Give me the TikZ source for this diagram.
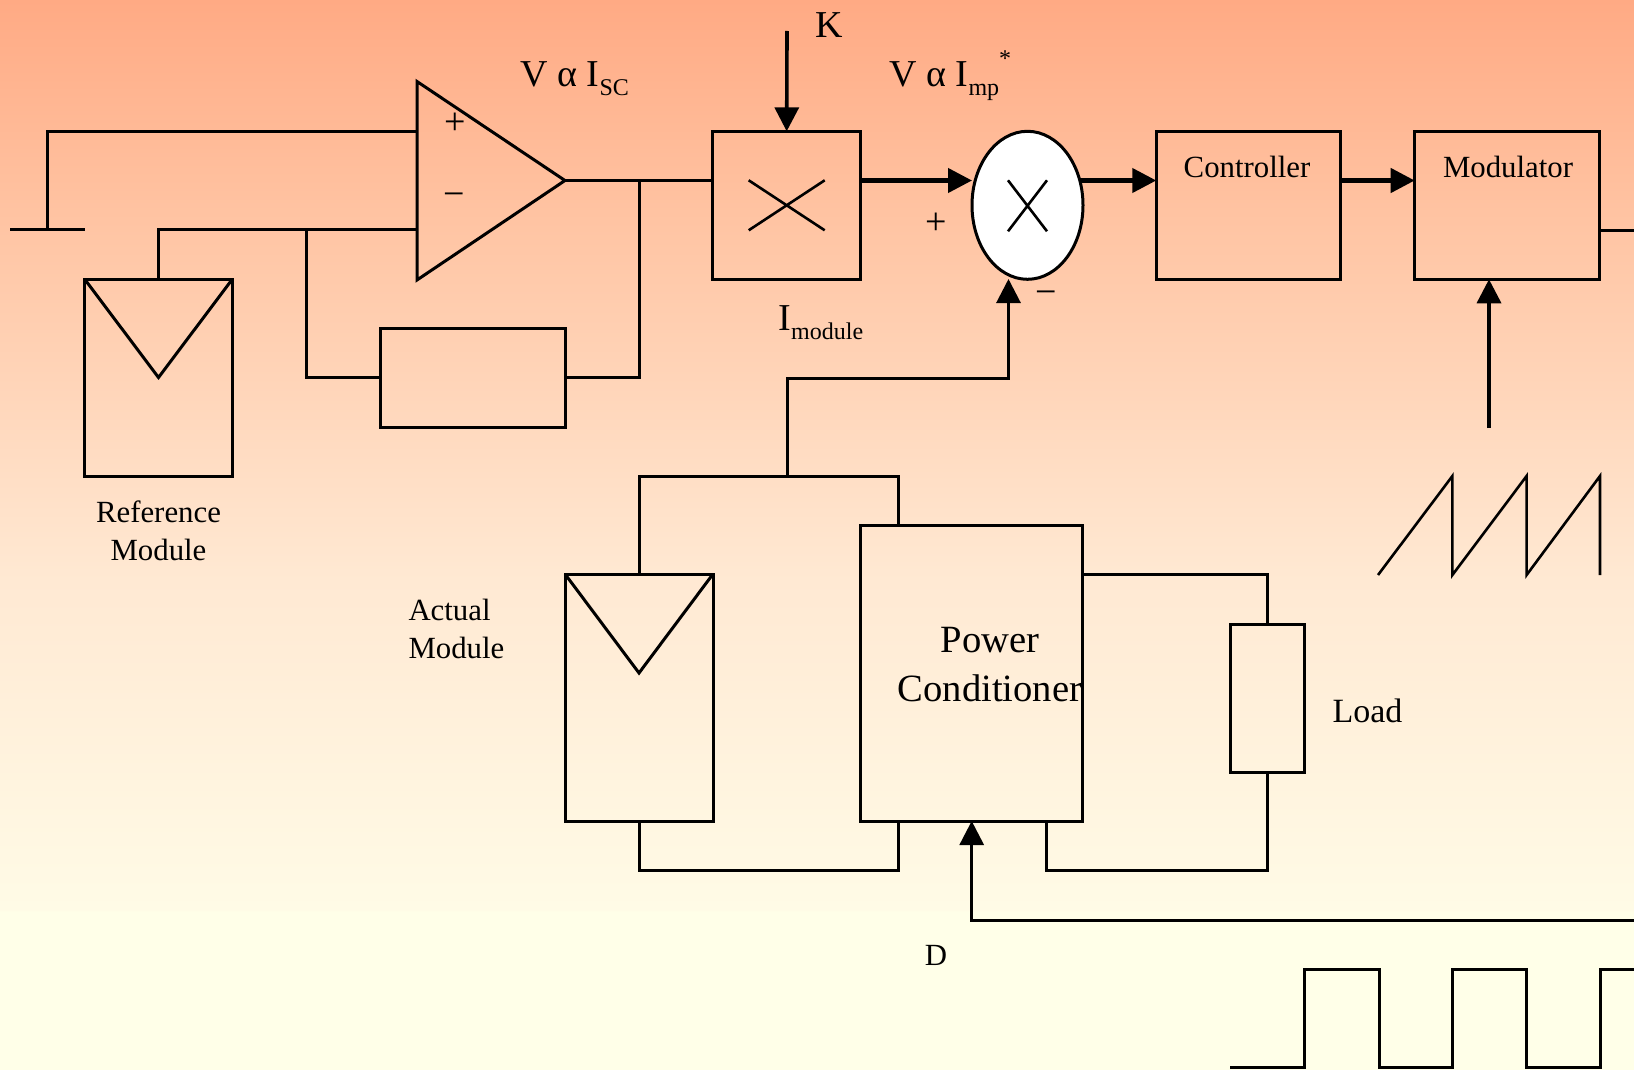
\documentclass[tikz,border=0pt]{standalone}
\usepackage{fontspec}
\setmainfont{Liberation Serif}
\usepackage{xcolor}
\usetikzlibrary{arrows.meta,positioning,shapes.geometric}
\definecolor{bgtop}{HTML}{FFAA84}
\definecolor{bgupper}{HTML}{FFC4A3}
\definecolor{bglower}{HTML}{FFE9D3}
\definecolor{bgfoot}{HTML}{FFFBE6}
\definecolor{bgbot}{HTML}{FFFFE8}
\pgfdeclareverticalshading{bgfade}{100bp}{color(0bp)=(bgbot); color(32.4bp)=(bgbot); color(32.5bp)=(bgfoot); color(47.9bp)=(bglower); color(64.7bp)=(bgupper); color(75bp)=(bgtop); color(100bp)=(bgtop)}
\newcommand{\lowtxt}[1]{\raisebox{-4.5pt}{\fontsize{12}{14}\selectfont #1}}
\newcommand{\hightxt}[1]{\raisebox{10pt}{\fontsize{12}{14}\selectfont #1}}

\begin{document}
\begin{tikzpicture}[x=.5pt,y=-.5pt,>={Triangle[length=12pt,width=12pt]},line width=1.5pt]
\tikzstyle{box}=[rectangle,draw,inner sep=0pt,outer sep=0pt]
\tikzstyle{txt}=[inner sep=0pt,font=\fontsize{15.4}{19}\selectfont]
\tikzstyle{bigtxt}=[inner sep=0pt,font=\fontsize{19}{24}\selectfont]
\tikzstyle{bold}=[line width=2.2pt]
\tikzstyle{heavy}=[line width=1.8pt]
\tikzstyle{fine}=[line width=1.3pt]
\useasboundingbox (0,0) rectangle (1634,1070);
\shade[shading=bgfade] (0,0) rectangle (1634,1070);
% blocks
\node[box,minimum width=74pt,minimum height=74pt] (mult) at (786.7,205.3) {};
\node[box,ellipse,fill=white,minimum width=55.5pt,minimum height=74pt] (sum) at (1027.5,205.3) {};
\node[box,minimum width=92.25pt,minimum height=74pt] (ctrl) at (1248.5,205.3) {};
\node[box,minimum width=92.5pt,minimum height=74pt] (mod) at (1507.2,205.3) {};
\node[box,minimum width=74pt,minimum height=98.5pt] (refmod) at (158.5,377.5) {};
\node[box,minimum width=92.5pt,minimum height=49.5pt] (fb) at (472.5,377.5) {};
\node[box,minimum width=74pt,minimum height=123.5pt] (actmod) at (639,697.5) {};
\node[box,minimum width=111pt,minimum height=148pt] (pc) at (971.7,673) {};
\node[box,minimum width=37pt,minimum height=74pt] (load) at (1267.5,698) {};
% ports
\coordinate (ampa) at (417,81.5);
\coordinate (ampb) at (417,280);
\coordinate (ampo) at (565,180.5);
\coordinate (ampp) at (417,131.5);
\coordinate (ampm) at (417,229.6);
\coordinate (gnd) at (47.6,229.6);
\coordinate (gndl) at (10,229.6);
\coordinate (gndr) at (85,229.6);
\coordinate (jm) at (306,229.6);
\coordinate (jo) at (639,180.5);
\coordinate (kin) at (787,31);
\coordinate (sumin) at (972,180.5);
\coordinate (sumo) at (1080,180.5);
\coordinate (sumb) at (1008.5,378);
\coordinate (sumt) at (1008.5,279);
\coordinate (imod) at (787,476);
\coordinate (pct) at (898,525);
\coordinate (pcb1) at (898,821.5);
\coordinate (pcb2) at (1046,821.5);
\coordinate (actv) at (639,673);
\coordinate (modo) at (1600,230);
\coordinate (modend) at (1634,230);
\coordinate (sawtop) at (1489,428);
\coordinate (dend) at (1634,920);
% amplifier and its wires
\draw (ampa)--(ampo)--(ampb)--cycle;
\draw (gndl)--(gndr);
\draw (gnd) |- (ampp);
\draw (refmod.north) |- (ampm);
\draw (jm) |- (fb.west);
\draw (ampo)--(ampo -| mult.west);
\draw (jo) |- (fb.east);
% module and multiplier marks
\draw (refmod.north west)--(refmod.center)--(refmod.north east);
\draw (actmod.north west)--(actv)--(actmod.north east);
\draw[fine] (mult.center) ++(-38,-25) -- ++(76,50) ++(-76,0) -- ++(76,-50);
\draw[fine] (sum.center) ++(-19.5,-25) -- ++(39,51) ++(-39,0) -- ++(39,-51);
% forward path
\draw[->,heavy] (kin)--(mult.north);
\draw[->,bold] (ampo -| mult.east)--(sumin);
\draw[->,bold] (sumo)--(ampo -| ctrl.west);
\draw[->,bold] (ampo -| ctrl.east)--(ampo -| mod.west);
\draw (modo)--(modend);
\draw[->,heavy] (sawtop)--(sawtop |- mod.south);
% feedback path
\draw (actmod.north) -- ++(0,-98) -| (pct);
\draw[->] (imod) |- (sumb) -- (sumt);
\draw[->] (dend) -| (pc.south);
\draw (actmod.south) -- ++(0,49) -| (pcb1);
\draw (pcb2) -- ++(0,49) -| (load.south);
\draw (pc.east |- actmod.north) -| (load.north);
% waveforms
\draw[fine] (1378,575)--(1452.4,476)--(1452.4,575)--(1526.6,476)--(1526.6,575)--(1600,476)--(1600,575);
\draw (1230,1067.7)--(1304,1067.7)--(1304,969)--(1379,969)--(1379,1067.7)--(1452.6,1067.7)--(1452.6,969)--(1526.6,969)--(1526.6,1067.7)--(1600,1067.7)--(1600,969)--(1634,969);
% labels
\node[bigtxt,anchor=base west] (lblisc) at (519,87) {V α I\lowtxt{SC}};
\node[bigtxt,anchor=base west] (lblimp) at (888,87) {V α I\lowtxt{mp}\hightxt{*}};
\node[bigtxt] (lblk) at (829,25) {K};
\node[bigtxt,anchor=base west] (lblimod) at (777,330) {I\lowtxt{module}};
\node[bigtxt] (lblp) at (455,124) {+};
\node[bigtxt] (lblm) at (454,200) {−};
\node[bigtxt] (lblsp) at (936,224) {+};
\node[bigtxt] (lblsm) at (1046,298) {−};
\node[txt] (lblctrl) at (1247,166.5) {Controller};
\node[txt] (lblmod) at (1508,166.5) {Modulator};
\node[txt,align=center] (lblref) at (158.5,531) {Reference\\Module};
\node[txt,align=left,anchor=west] (lblact) at (407,629) {Actual\\Module};
\node[bigtxt,font=\fontsize{19.3}{24.5}\selectfont,align=center] (lblpc) at (990,665) {Power\\Conditioner};
\node[txt,font=\fontsize{17}{20}\selectfont,anchor=west] (lblload) at (1331,711) {Load};
\node[txt] (lbld) at (936,955) {D};
\end{tikzpicture}
\end{document}
